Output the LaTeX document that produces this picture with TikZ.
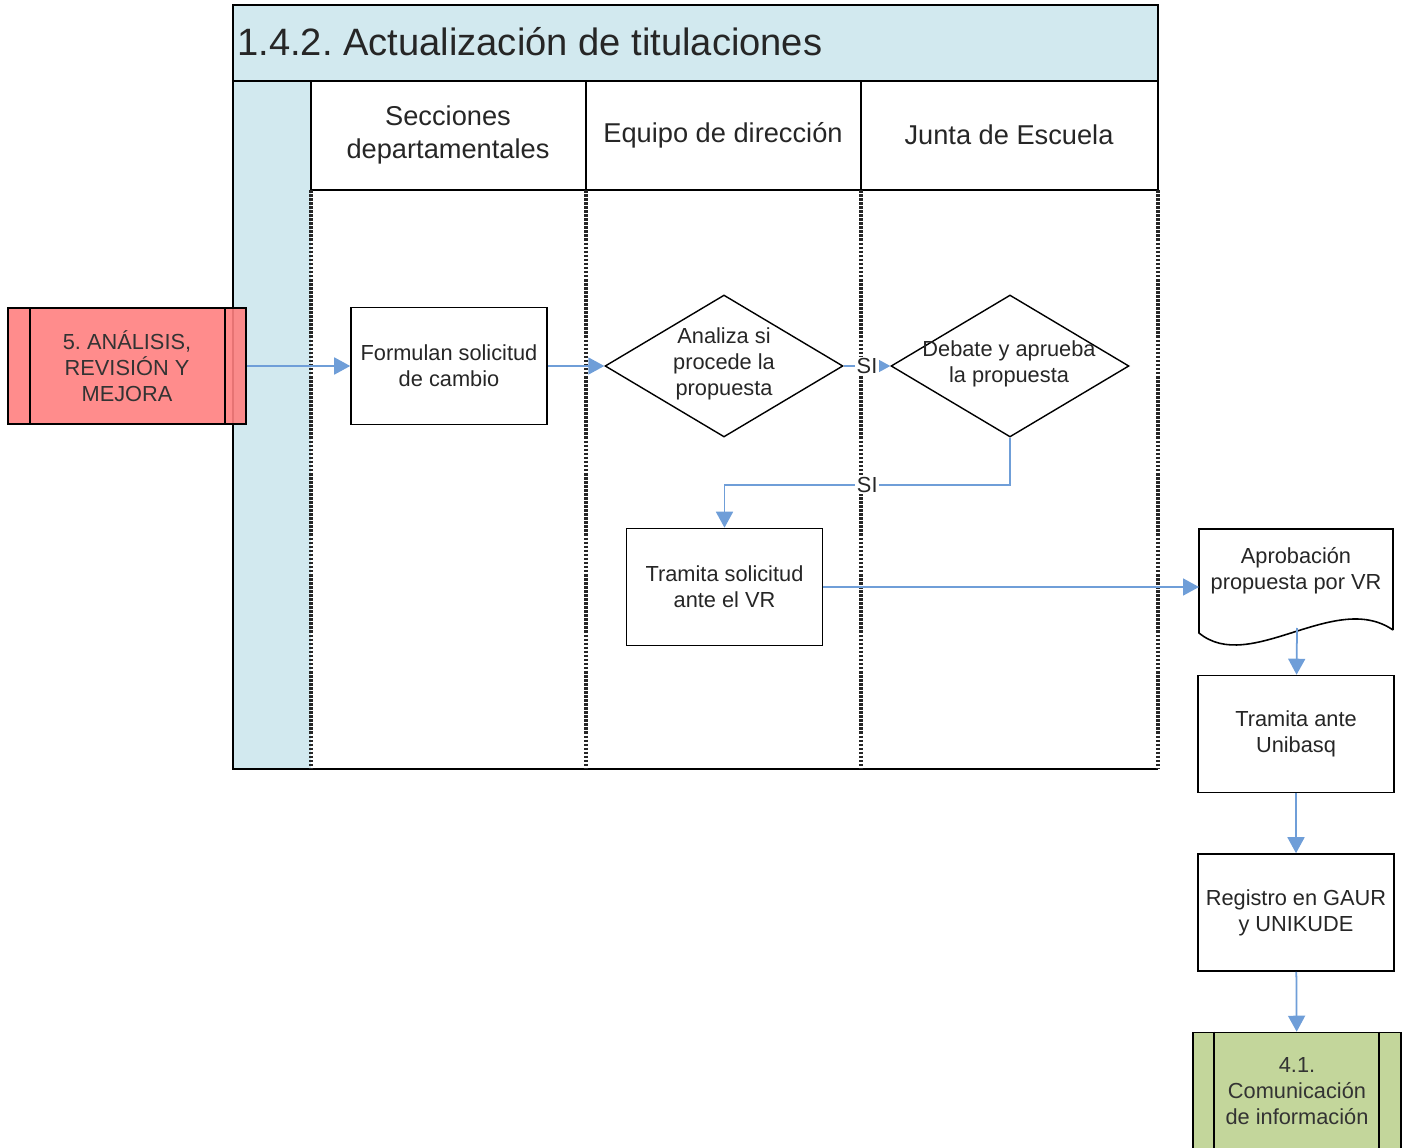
\documentclass[tikz,border=0pt]{standalone}
\usepackage{fontspec}
\setmainfont{Liberation Sans}
\usetikzlibrary{shapes.geometric,arrows.meta}
\frenchspacing
\definecolor{poolblue}{HTML}{D2E9EF}
\definecolor{flowblue}{HTML}{6F9ED8}
\definecolor{redsub}{HTML}{FF8080}
\definecolor{greensub}{HTML}{C3D69B}
\newcommand\titlefont{\fontsize{21.7}{26}\selectfont}
\newcommand\headfont{\fontsize{15.5}{18.7}\selectfont}
\newcommand\nodefont{\fontsize{12.4}{14.7}\selectfont}
\tikzset{
  proc/.style={draw, fill=white, line width=0.9pt, minimum width=3.92cm, minimum height=2.34cm,
    align=center, font=\nodefont, text=black!85, inner sep=0pt},
  decision/.style={diamond, draw, line width=0.8pt, minimum width=4.76cm, minimum height=2.84cm, inner sep=0pt},
  flow/.style={draw=flowblue, line width=1pt, -{Triangle[length=0.32cm,width=0.34cm]}},
  lanesep/.style={draw=black!85, line width=2pt, dash pattern=on 1.5pt off 0.8pt},
  silabel/.style={fill=white, inner sep=1pt, font=\nodefont, text=black!85},
  subproc/.style={draw, line width=0.9pt, minimum height=2.32cm, align=center, font=\nodefont,
    text=black!80, inner sep=0pt},
}
\begin{document}
\begin{tikzpicture}[x=0.02cm,y=-0.02cm]
\useasboundingbox (0,0) rectangle (1406,1148);
\fill[poolblue] (233,5) rectangle (1158,81);
\fill[poolblue] (233,81) rectangle (311,769);
\draw[line width=1.1pt] (1158,190) -- (1158,5) -- (233,5) -- (233,769) -- (1158,769);
\draw[line width=1.1pt] (233,81) -- (1158,81);
\draw[line width=1pt] (311,190) -- (1158,190);
\draw[line width=1pt] (311,81) -- (311,190) (586,81) -- (586,190) (861,81) -- (861,190);
\foreach \x in {311,586,861,1158} \draw[lanesep] (\x,190) -- (\x,769);

\node[anchor=west, inner sep=0pt, font=\titlefont, text=black!85] (title) at (237,42) {1.4.2. Actualización de titulaciones};
\node[align=center, font=\headfont, text=black!85] (lane1) at (448,135) {Secciones\\departamentales};
\node[font=\headfont, text=black!85] (lane2) at (723,135) {Equipo de dirección};
\node[font=\headfont, text=black!85] (lane3) at (1009,135) {Junta de Escuela};

\node[subproc, fill=redsub, fill opacity=0.9, text opacity=1, minimum width=4.76cm] (analisis) at (127,366) {5. ANÁLISIS,\\REVISIÓN Y\\MEJORA};
\draw[line width=0.9pt] ([xshift=0.46cm]analisis.north west) -- ([xshift=0.46cm]analisis.south west)
  ([xshift=-0.44cm]analisis.north east) -- ([xshift=-0.44cm]analisis.south east);
\node[proc] (formula) at (449,366) {Formulan solicitud\\de cambio};
\node[decision] (analiza) at (724,366) {};
\node[font=\nodefont, align=center, text=black!85] at (724,364) {Analiza si\\procede la\\propuesta};
\node[decision] (debate) at (1010,366) {};
\node[font=\nodefont, align=center, text=black!85] at (1009,364) {Debate y aprueba\\la propuesta};
\node[proc] (tramita) at (724.5,587) {Tramita solicitud\\ante el VR};

\draw[line width=0.9pt, fill=white] (1393,630) -- (1393,529) -- (1199,529) -- (1199,633)
  .. controls (1250,675) and (1335,590) .. (1393,630);
\node[font=\nodefont, align=center, text=black!85] (aprob) at (1296,571) {Aprobación\\propuesta por VR};
\coordinate (docw) at (1199,587);
\coordinate (docs) at (1297,628);
\node[proc] (unibasq) at (1296,734) {Tramita ante\\Unibasq};
\node[proc] (registro) at (1296,912.5) {Registro en GAUR\\y UNIKUDE};
\node[subproc, fill=greensub, minimum width=4.16cm, minimum height=2.34cm] (comunica) at (1297,1091) {4.1.\\Comunicación\\de información};
\draw[line width=0.9pt] ([xshift=0.44cm]comunica.north west) -- ([xshift=0.44cm]comunica.south west)
  ([xshift=-0.46cm]comunica.north east) -- ([xshift=-0.46cm]comunica.south east);

\draw[flow] (analisis) -- (formula);
\draw[flow] (formula) -- (analiza);
\draw[flow] (analiza) -- node[silabel]{SI} (debate);
\draw[flow] (debate.south) -- ++(0,47) -| node[silabel, pos=0.25]{SI} (tramita.north);
\draw[flow] (tramita) -- (docw);
\draw[flow] (docs) -- (unibasq);
\draw[flow] (unibasq) -- (registro);
\draw[flow] (registro) -- (comunica);
\end{tikzpicture}
\end{document}
